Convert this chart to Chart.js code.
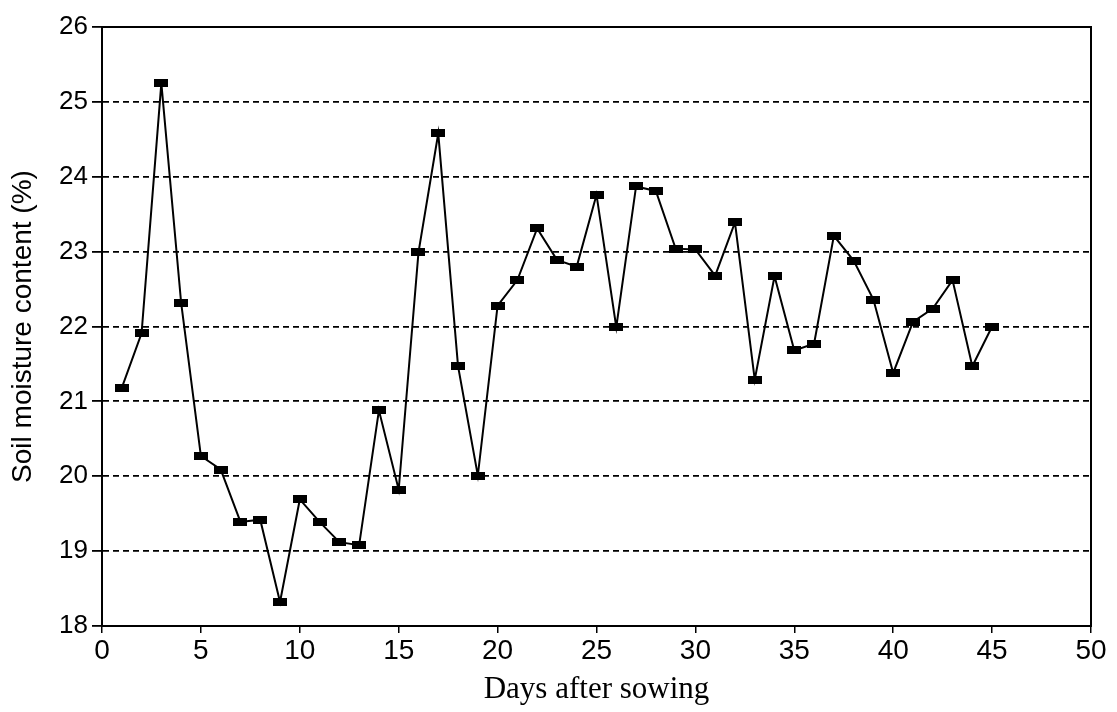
<!DOCTYPE html>
<html>
<head>
<meta charset="utf-8">
<script src="https://cdn.jsdelivr.net/npm/chart.js@4/dist/chart.umd.min.js"></script>
<style>
  html, body { margin: 0; padding: 0; background: #ffffff; }
  #wrap { width: 1117px; height: 712px; }
</style>
</head>
<body>
<div id="wrap"><canvas id="chart" width="1117" height="712"></canvas></div>
<script>
// Days after sowing (x) and measured soil moisture content in % (y)
const days = [
  1, 2, 3, 4, 5, 6, 7, 8, 9, 10,
  11, 12, 13, 14, 15, 16, 17, 18, 19, 20,
  21, 22, 23, 24, 25, 26, 27, 28, 29, 30,
  31, 32, 33, 34, 35, 36, 37, 38, 39, 40,
  41, 42, 43, 44, 45
];
const moisture = [
  21.18, 21.91, 25.25, 22.32, 20.27, 20.09, 19.39, 19.42, 18.32, 19.69,
  19.39, 19.12, 19.08, 20.88, 19.82, 22.99, 24.58, 21.47, 20.01, 22.28,
  22.62, 23.31, 22.89, 22.80, 23.76, 21.99, 23.87, 23.81, 23.04, 23.03,
  22.68, 23.39, 21.29, 22.67, 21.68, 21.77, 23.21, 22.88, 22.36, 21.38,
  22.06, 22.24, 22.62, 21.47, 22.00
];

// Axis ranges and tick steps
const xRange = { min: 0, max: 50, step: 5 };
const yRange = { min: 18, max: 26, step: 1 };

const xTitle = 'Days after sowing';
const yTitle = 'Soil moisture content (%)';

// Flat black rectangle used as the point marker
const marker = document.createElement('canvas');
marker.width = 14;
marker.height = 8;
(function () {
  const c = marker.getContext('2d');
  c.fillStyle = '#000000';
  c.fillRect(0, 0, 14, 8);
})();

const points = days.map((d, i) => ({ x: d, y: moisture[i] }));

// Solid frame around the plotting area
const framePlugin = {
  id: 'frame',
  afterDatasetsDraw(chart) {
    const { ctx, chartArea: a } = chart;
    ctx.save();
    ctx.strokeStyle = '#000000';
    ctx.lineWidth = 2;
    ctx.setLineDash([]);
    ctx.strokeRect(a.left, a.top, a.right - a.left, a.bottom - a.top);
    ctx.restore();
  }
};

new Chart(document.getElementById('chart'), {
  type: 'line',
  data: {
    datasets: [{
      data: points,
      borderColor: '#000000',
      borderWidth: 2,
      tension: 0,
      fill: false,
      pointStyle: marker,
      pointRadius: 7,
      pointHoverRadius: 7,
      pointBackgroundColor: '#000000',
      pointBorderColor: '#000000'
    }]
  },
  options: {
    responsive: false,
    animation: false,
    devicePixelRatio: 1,
    layout: { padding: { top: 27, right: 26, bottom: 0, left: 0 } },
    plugins: {
      legend: { display: false },
      tooltip: { enabled: false }
    },
    scales: {
      x: {
        type: 'linear',
        min: xRange.min,
        max: xRange.max,
        afterFit(scale) { scale.height = 86; },
        ticks: {
          stepSize: xRange.step,
          color: '#000000',
          padding: 1,
          maxRotation: 0,
          font: { family: '"Liberation Sans", Arial, sans-serif', size: 28 }
        },
        grid: {
          display: true,
          drawOnChartArea: false,
          drawTicks: true,
          tickLength: 7,
          color: '#000000',
          lineWidth: 1.5
        },
        border: { display: true, color: '#000000', width: 2 },
        title: {
          display: true,
          text: xTitle,
          color: '#000000',
          padding: { top: 0, bottom: 4 },
          font: { family: '"Liberation Serif", "Times New Roman", serif', size: 31 }
        }
      },
      y: {
        type: 'linear',
        min: yRange.min,
        max: yRange.max,
        afterFit(scale) { scale.width = 102; },
        ticks: {
          stepSize: yRange.step,
          color: '#000000',
          padding: 4,
          font: { family: '"Liberation Sans", Arial, sans-serif', size: 26 }
        },
        grid: {
          display: true,
          drawOnChartArea: true,
          drawTicks: true,
          tickLength: 10,
          color: '#000000',
          lineWidth: 1.8,
          tickBorderDash: []
        },
        border: { display: true, color: '#000000', width: 2, dash: [6, 4] },
        title: {
          display: true,
          text: yTitle,
          color: '#000000',
          padding: { top: 6, bottom: 0 },
          font: { family: '"Liberation Sans", Arial, sans-serif', size: 28 }
        }
      }
    }
  },
  plugins: [framePlugin]
});
</script>
</body>
</html>
